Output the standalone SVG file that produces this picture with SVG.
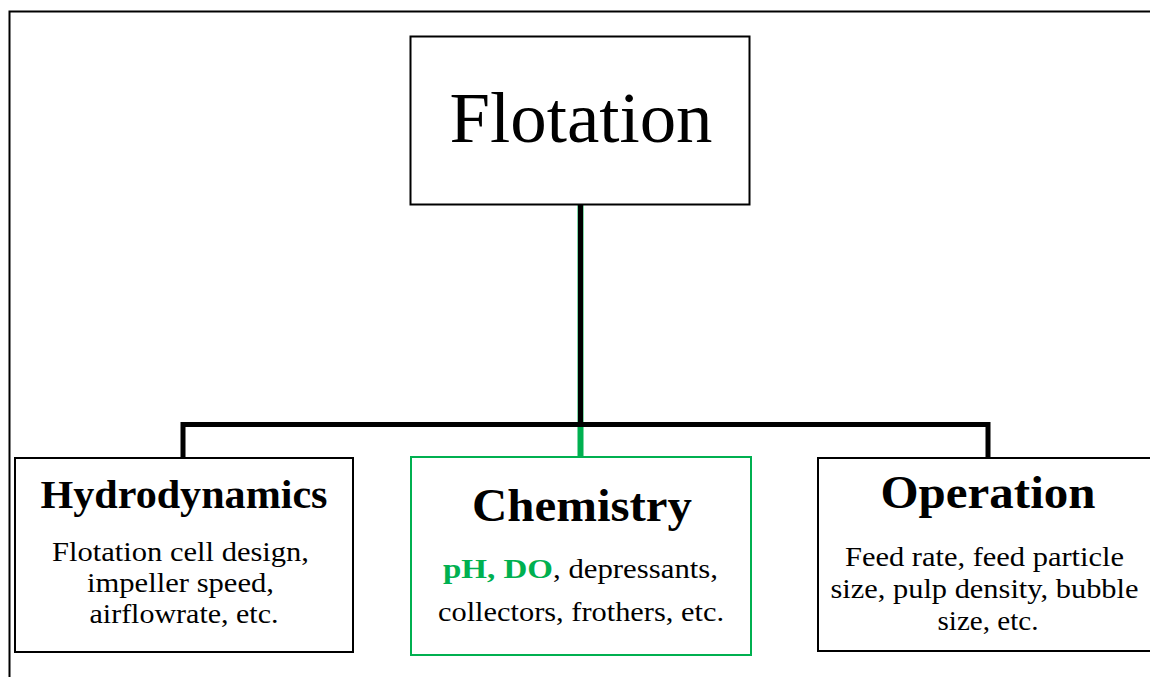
<svg xmlns="http://www.w3.org/2000/svg" width="1150" height="677" viewBox="0 0 1150 677">
<style>
.box{fill:#fff;stroke:#000;stroke-width:2}
.gbox{fill:#fff;stroke:#00B050;stroke-width:2}
.t{font-family:"Liberation Serif","Times New Roman",serif;fill:#000}
.h{font-weight:bold}
.c{text-anchor:middle}
.g{fill:#00B050;font-weight:bold}
.ln{stroke:#000;stroke-width:5;fill:none}
</style>
<rect width="1150" height="677" fill="#fff"/>
<path d="M9.5,677 V11.5 H1150" fill="none" stroke="#000" stroke-width="2"/>
<g id="connectors">
<line x1="580.5" y1="205" x2="580.5" y2="457" stroke="#00B050" stroke-width="6"/>
<line x1="580.5" y1="205" x2="580.5" y2="426" class="ln"/>
<path d="M183,457 V424.5 H988 V457" class="ln"/>
</g>
<g id="flotation">
<rect x="410.5" y="36.5" width="339" height="168" class="box"/>
<text x="581" y="142" class="t c" font-size="72" textLength="263" lengthAdjust="spacingAndGlyphs">Flotation</text>
</g>
<g id="hydrodynamics">
<rect x="15" y="458" width="338" height="194" class="box"/>
<text x="184" y="508" class="t h c" font-size="39" textLength="287" lengthAdjust="spacingAndGlyphs">Hydrodynamics</text>
<text class="t c" font-size="28">
<tspan x="184" y="561" textLength="257" lengthAdjust="spacingAndGlyphs">Flotation cell design,</tspan>
<tspan x="184" y="592" textLength="187" lengthAdjust="spacingAndGlyphs">impeller speed,</tspan>
<tspan x="184" y="623" textLength="189" lengthAdjust="spacingAndGlyphs">airflowrate, etc.</tspan>
</text>
</g>
<g id="chemistry">
<rect x="411" y="457" width="340" height="198" class="gbox"/>
<text x="582" y="521" class="t h c" font-size="46" textLength="220" lengthAdjust="spacingAndGlyphs">Chemistry</text>
<text class="t" font-size="28" y="578"><tspan x="443" class="g" textLength="110" lengthAdjust="spacingAndGlyphs">pH, DO</tspan><tspan x="553" textLength="165" lengthAdjust="spacingAndGlyphs">, depressants,</tspan></text>
<text x="581" y="621" class="t c" font-size="28" textLength="286" lengthAdjust="spacingAndGlyphs">collectors, frothers, etc.</text>
</g>
<g id="operation">
<rect x="818" y="458" width="340" height="193" class="box"/>
<text x="988" y="508" class="t h c" font-size="46" textLength="215" lengthAdjust="spacingAndGlyphs">Operation</text>
<text class="t c" font-size="28">
<tspan x="988" y="566" textLength="279" lengthAdjust="spacingAndGlyphs">Feed rate, feed particle</tspan>
<tspan x="988" y="598" textLength="308" lengthAdjust="spacingAndGlyphs">size, pulp density, bubble</tspan>
<tspan x="988" y="630" textLength="101" lengthAdjust="spacingAndGlyphs">size, etc.</tspan>
</text>
</g>
</svg>
